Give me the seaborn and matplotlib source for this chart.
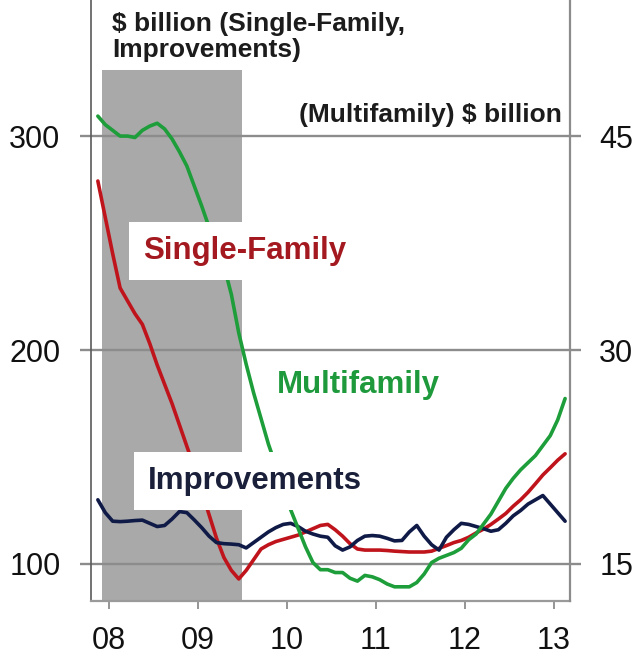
import matplotlib
matplotlib.use("Agg")
import matplotlib.pyplot as plt
import seaborn as sns
import numpy as np
import pandas as pd

# Monthly observations, Nov 2007 - Feb 2013 (annualized, $ billion)
months = pd.period_range("2007-11", "2013-02", freq="M")

single_family = [
    279, 262, 245, 229, 223, 217, 212, 203, 193, 184,
    175, 165, 155, 145, 134, 123, 112, 103, 97, 93,
    97, 102, 107, 109, 110.5, 111.5, 112.5, 113.5, 115, 116.5,
    118, 118.5, 116, 113, 109.5, 107, 106.5, 106.5, 106.5, 106.3,
    106, 105.8, 105.6, 105.6, 105.6, 106, 107.3, 108.6, 110, 111,
    112.5, 114.5, 116.3, 118.5, 121, 123.6, 127, 130, 133.5, 137.5,
    141.6, 145, 148.5, 151.5,
]

improvements = [
    130, 124, 120, 119.8, 120, 120.3, 120.5, 119, 117.5, 118,
    121, 124.5, 124, 120.6, 117, 113, 110, 109.5, 109.3, 109,
    107.5, 110, 112.5, 115, 117, 118.5, 119, 117.5, 115.3, 114,
    113, 112.5, 108.5, 106.5, 108, 111, 113, 113.3, 113, 112,
    110.8, 111, 115, 118, 113, 109, 106.5, 112.5, 116, 119,
    118.5, 117.5, 116.5, 115.3, 116, 119, 122.5, 125, 128, 130,
    132, 128, 124, 120,
]

# Multifamily is read on the right-hand scale
multifamily = [
    46.4, 45.8, 45.4, 45.0, 45.0, 44.9, 45.4, 45.7, 45.9, 45.5,
    44.8, 43.9, 42.9, 41.5, 40.1, 38.6, 37.2, 35.9, 33.9, 31.2,
    29.0, 27.0, 25.2, 23.4, 21.9, 20.3, 18.8, 17.5, 16.2, 15.1,
    14.6, 14.6, 14.4, 14.4, 14.0, 13.8, 14.2, 14.1, 13.9, 13.6,
    13.4, 13.4, 13.4, 13.7, 14.3, 15.1, 15.4, 15.6, 15.8, 16.1,
    16.7, 17.1, 17.8, 18.5, 19.4, 20.3, 21.0, 21.6, 22.1, 22.6,
    23.3, 24.0, 25.1, 26.6,
]

left_ticks = [100, 200, 300]
right_ticks = [15, 30, 45]
year_ticks = [2008, 2009, 2010, 2011, 2012, 2013]
year_labels = ["08", "09", "10", "11", "12", "13"]
recession = (2007 + 11 / 12, 2009.5)   # Dec 2007 - Jun 2009

# decimal-year position at mid-month
x = np.array([p.year + (p.month - 1) / 12 + 1 / 24 for p in months])
df = pd.DataFrame({"x": x, "sf": single_family, "imp": improvements, "mf": multifamily})

sns.set_theme(style="white")
plt.rcParams["font.family"] = ["Liberation Sans", "DejaVu Sans"]

W, H = 634, 656
fig = plt.figure(figsize=(W / 100, H / 100), dpi=100)
ax = fig.add_axes([91 / W, 55 / H, (570 - 91) / W, 601 / H])
ax.set_xlim(2007.798, 2013.18)
ylo, yhi = 82.7, 363.6
ax.set_ylim(ylo, yhi)
scale = 0.15

# recession shading
ax.fill_between(recession, ylo, 331, color="#a9a9a9", lw=0, zorder=1)

sns.lineplot(data=df, x="x", y="sf", ax=ax, color="#c0141c", lw=2.6, zorder=3)
sns.lineplot(data=df, x="x", y="imp", ax=ax, color="#0f1a47", lw=2.6, zorder=3)

ax.set_yticks(left_ticks)
ax.set_xticks(year_ticks)
ax.set_xticklabels(year_labels)
ax.set_xlabel("")
ax.set_ylabel("")
ax.set_axisbelow("line")
ax.grid(axis="y", color="#8c8c8c", lw=1.7)
ax.grid(axis="x", visible=False)
ax.tick_params(axis="y", left=True, length=8, width=1.7, color="#8c8c8c",
               pad=14, labelsize=22, labelcolor="#111111")
ax.tick_params(axis="x", bottom=True, length=6, width=1.3, color="#8c8c8c",
               pad=12, labelsize=22, labelcolor="#111111")

ax2 = ax.twinx()
ax2.set_ylim(ylo * scale, yhi * scale)
sns.lineplot(data=df, x="x", y="mf", ax=ax2, color="#1e9e3a", lw=2.6, zorder=3)
ax2.set_yticks(right_ticks)
ax2.set_ylabel("")
ax2.tick_params(axis="y", right=True, length=8, width=1.7, color="#8c8c8c",
                pad=13, labelsize=22, labelcolor="#111111")

for a in (ax, ax2):
    a.spines["top"].set_visible(False)
ax.spines["right"].set_visible(False)
ax2.spines["left"].set_visible(False)
ax2.spines["bottom"].set_visible(False)
ax.spines["left"].set_color("#5a5a5a")
ax.spines["left"].set_linewidth(1.2)
ax.spines["bottom"].set_color("#9a9a9a")
ax.spines["bottom"].set_linewidth(1.6)
ax2.spines["right"].set_color("#8c8c8c")
ax2.spines["right"].set_linewidth(1.6)


def fx(px):
    return px / W


def fy(py):
    return 1 - py / H


ax2.text(fx(112), fy(12), "$ billion (Single-Family,\nImprovements)",
         transform=fig.transFigure, ha="left", va="top", fontsize=19,
         fontweight="bold", color="#1c1c1c", linespacing=1.1, zorder=10)
ax2.text(fx(562), fy(115), "(Multifamily) $ billion",
         transform=fig.transFigure, ha="right", va="center", fontsize=19,
         fontweight="bold", color="#1c1c1c", zorder=10)

box = dict(boxstyle="square,pad=0.45", fc="white", ec="none")
ax2.text(fx(143), fy(251), "Single-Family", transform=fig.transFigure,
         ha="left", va="center", fontsize=22.5, fontweight="bold",
         color="#a3191f", bbox=box, zorder=10)
ax2.text(fx(148), fy(481), "Improvements", transform=fig.transFigure,
         ha="left", va="center", fontsize=22.5, fontweight="bold",
         color="#1a1f3a", bbox=box, zorder=10)
ax2.text(fx(277), fy(385), "Multifamily", transform=fig.transFigure,
         ha="left", va="center", fontsize=22.5, fontweight="bold",
         color="#1e9a3c", zorder=10)

fig.savefig("out.png", dpi=100)
